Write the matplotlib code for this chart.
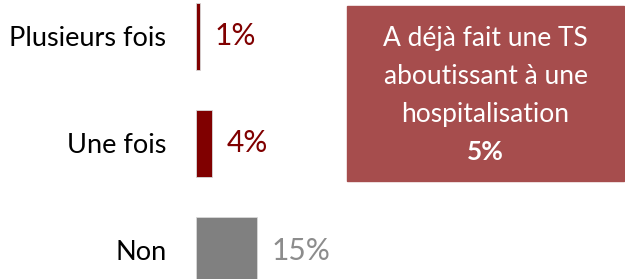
import matplotlib.pyplot as plt
from matplotlib.patches import Rectangle

plt.rcParams['font.family'] = ['Lato', 'DejaVu Sans']

categories = ["Plusieurs fois", "Une fois", "Non"]
values = [1, 4, 15]
bar_colors = ["#800000", "#800000", "#808080"]
label_colors = ["#800000", "#800000", "#8c8c8c"]

box_lines = ["A déjà fait une TS", "aboutissant à une", "hospitalisation"]
box_value = "5%"

W, H = 625, 279
fig = plt.figure(figsize=(W / 100, H / 100), dpi=100)

# axes: x=0 at 195.5 px, ~4.07 px per percent
x0 = 195.5
ax = fig.add_axes([x0 / W, 0, (W - x0) / W, 1])
ypos = range(len(categories))
ax.barh(ypos, values, height=67 / 107, color=bar_colors,
        edgecolor="#d9d9d9", linewidth=0.6)
ax.set_xlim(0, (W - x0) / 4.07)
ax.set_ylim((H - 36.5) / 107, -36.5 / 107)

for y, v, c in zip(ypos, values, label_colors):
    ax.annotate(f"{v}%", (v, y), xytext=(11, 0), textcoords="offset points",
                va="center", ha="left", fontsize=21.5, color=c)

ax.set_yticks(list(ypos))
ax.set_yticklabels(categories, fontsize=19.5, color="black")
ax.tick_params(axis="y", length=0, pad=21)
ax.set_xticks([])
for s in ax.spines.values():
    s.set_visible(False)
ax.patch.set_visible(False)

# encadré
fig.add_artist(Rectangle((347 / W, 1 - 181 / H), (624 - 347) / W, 175 / H,
                         transform=fig.transFigure, color="#a64d4d", zorder=0))
cx = 485.5 / W
for txt, base in zip(box_lines, [46, 84, 122]):
    fig.text(cx, 1 - base / H, txt, ha="center", va="baseline",
             fontsize=19, color="white")
fig.text(cx, 1 - 160 / H, box_value, ha="center", va="baseline",
         fontsize=19, color="white", fontweight="bold")

fig.savefig("out.png", dpi=100)
